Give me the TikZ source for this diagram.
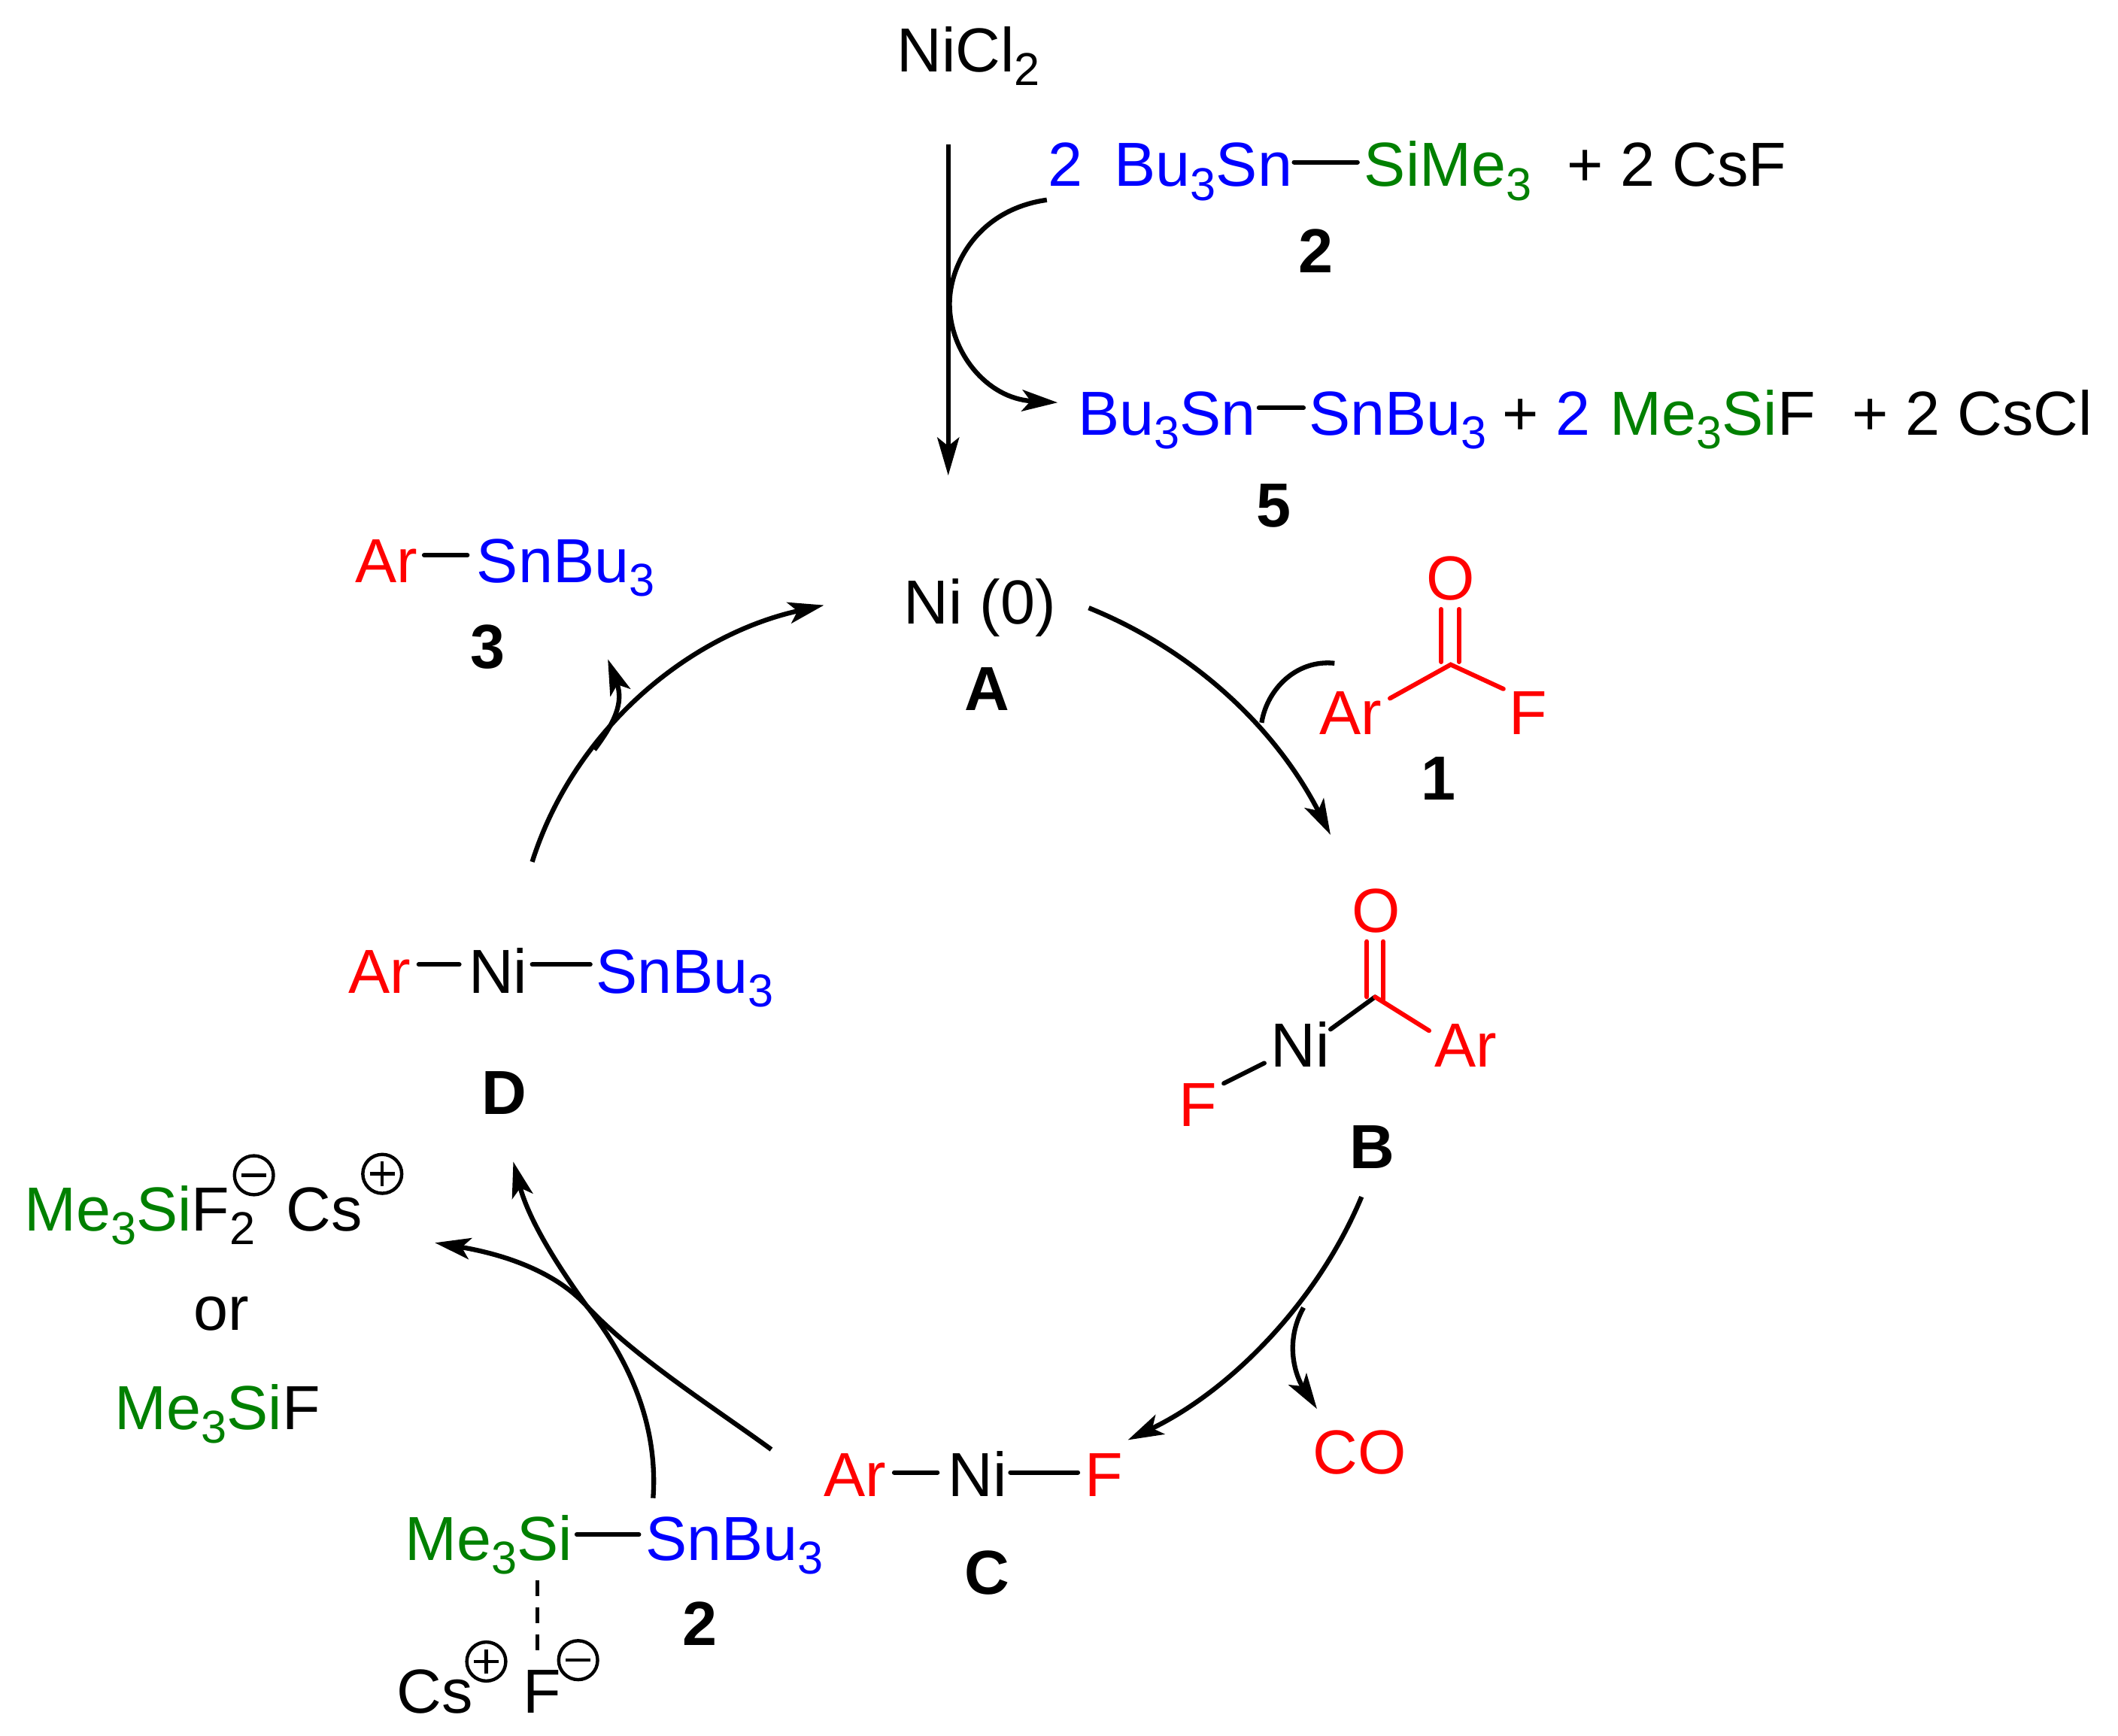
\documentclass[tikz,border=0pt]{standalone}
\usepackage{fontspec}
\setmainfont{Liberation Sans}
\usetikzlibrary{arrows.meta}
\definecolor{sgreen}{RGB}{0,128,0}
\newcommand{\sbs}[1]{\raisebox{-2.9pt}{\fontsize{9.7}{10}\selectfont #1}}
\newcommand{\gr}[1]{\textcolor{sgreen}{#1}}
\newcommand{\bl}[1]{\textcolor{blue}{#1}}
\newcommand{\rd}[1]{\textcolor{red}{#1}}
\tikzset{
  txt/.style={inner sep=0pt,outer sep=0pt,anchor=base west,font=\fontsize{13.1}{15}\selectfont},
  lab/.style={inner sep=0pt,outer sep=0pt,anchor=base,font=\fontsize{13.1}{15}\selectfont\bfseries},
  bond/.style={line width=0.95pt,line cap=round},
  rbond/.style={bond,red},
  arc/.style={line width=1pt,-{Stealth[length=7.5pt,width=4.5pt,inset=1.8pt]}},
  plainarc/.style={line width=1pt},
  charge/.style={circle,draw,line width=0.7pt,minimum size=8.2pt,inner sep=0pt,outer sep=0pt},
}
\newcommand{\pluscharge}[2]{\node[charge] (#1) at (#2) {}; \draw[line width=0.7pt] ([xshift=-2.6pt]#1.center) -- ([xshift=2.6pt]#1.center) ([yshift=-2.6pt]#1.center) -- ([yshift=2.6pt]#1.center);}
\newcommand{\minuscharge}[2]{\node[charge] (#1) at (#2) {}; \draw[line width=0.7pt] ([xshift=-2.6pt]#1.center) -- ([xshift=2.6pt]#1.center);}
\begin{document}
\begin{tikzpicture}[x=0.01cm,y=-0.01cm]
\useasboundingbox (0,0) rectangle (1568,1284.6);
% top
\node[txt] (nicl) at (664,53) {NiCl\sbs{2}};
\node[txt] (two) at (776,138) {\bl{2}};
\node[txt] (busn) at (825,138) {\bl{Bu\sbs{3}Sn}};
\node[txt] (sime) at (1010,138) {\gr{SiMe\sbs{3}}};
\node[txt] (csf) at (1160,138) {+ 2 CsF};
\node[lab] (l2a) at (974,202) {2};
\node[txt] (busnb) at (798,322) {\bl{Bu\sbs{3}Sn}};
\node[txt] (snbu) at (969,322) {\bl{SnBu\sbs{3}}};
\node[txt] (plus) at (1112,322) {+};
\node[txt] (twob) at (1152,322) {\bl{2}};
\node[txt] (mesif) at (1192,322) {\gr{Me\sbs{3}Si}F};
\node[txt] (cscl) at (1371,322) {+ 2 CsCl};
\node[lab] (l5) at (943,390) {5};
\draw[bond] (958,120) -- (1005,120);
\draw[bond] (932,302) -- (965,302);
\coordinate (v1) at (702,107); \coordinate (v2) at (702,352);
\draw[line width=1pt,-{Stealth[length=8pt,width=4.6pt,inset=1.8pt]}] (v1) -- (v2);
\coordinate (c1) at (775,148); \coordinate (c2) at (703,225); \coordinate (c3) at (783,298);
\draw[arc] (c1) .. controls (725,155) and (703,195) .. (c2) .. controls (703,260) and (730,295) .. (c3);
% product 3
\node[txt] (ar3) at (263,431) {\rd{Ar}};
\node[txt] (sn3) at (353,431) {\bl{SnBu\sbs{3}}};
\node[lab] (l3) at (361,495) {3};
\draw[bond] (314,411) -- (346,411);
% A
\node[txt] (ni0) at (669,462) {Ni (0)};
\node[lab] (lA) at (731,526) {A};
% 1
\node[txt] (o1) at (1056,444) {\rd{O}};
\node[txt] (ar1) at (977,544) {\rd{Ar}};
\node[txt] (f1) at (1117,544) {\rd{F}};
\node[lab] (l1) at (1065,592) {1};
\coordinate (c1c) at (1074,492);
\draw[rbond] (1067,451) -- (1067,490) (1080,451) -- (1080,490);
\draw[rbond] (1029,517) -- (c1c) -- (1113,510);
% B
\node[txt] (ob) at (1001,690) {\rd{O}};
\node[txt] (nib) at (941,790) {Ni};
\node[txt] (arb) at (1062,790) {\rd{Ar}};
\node[txt] (fb) at (873,834) {\rd{F}};
\node[lab] (lB) at (1016,865) {B};
\coordinate (cbc) at (1018,738);
\draw[bond] (985,762) -- (cbc);
\draw[bond] (906,802) -- (936,787);
\draw[rbond] (1012,697) -- (1012,738) (1024,697) -- (1024,740);
\draw[rbond] (cbc) -- (1058,763);
% C
\node[txt] (arc) at (610,1108) {\rd{Ar}};
\node[txt] (nic) at (702,1108) {Ni};
\node[txt] (fc) at (803,1108) {\rd{F}};
\node[lab] (lC) at (731,1180) {C};
\draw[bond] (662,1090) -- (694,1090);
\draw[bond] (748,1090) -- (798,1090);
\node[txt] (co) at (972,1091) {\rd{CO}};
% D
\node[txt] (ard) at (258,735) {\rd{Ar}};
\node[txt] (nid) at (347,735) {Ni};
\node[txt] (snd) at (441,735) {\bl{SnBu\sbs{3}}};
\node[lab] (lD) at (373,825) {D};
\draw[bond] (310,714) -- (340,714);
\draw[bond] (394,714) -- (437,714);
% by-products
\node[txt] (f2) at (18,911) {\gr{Me\sbs{3}Si}F\sbs{2}};
\node[txt] (cs) at (212,911) {Cs};
\minuscharge{m1}{188,870}
\pluscharge{p1}{283,869}
\node[txt,anchor=base] (or) at (164,985) {or};
\node[txt] (mesifb) at (85,1058) {\gr{Me\sbs{3}Si}F};
% reagent 2
\node[txt] (mes) at (300,1155) {\gr{Me\sbs{3}Si}};
\node[txt] (sns) at (478,1155) {\bl{SnBu\sbs{3}}};
\node[lab] (l2b) at (518,1218) {2};
\draw[bond] (427,1136) -- (473,1136);
\draw[line width=0.8pt,dash pattern=on 3.3pt off 2.4pt] (398,1170) -- (398,1222);
\node[txt] (csb) at (294,1268) {Cs};
\node[txt] (fcs) at (387,1268) {F};
\pluscharge{p2}{360,1230}
\minuscharge{m2}{428,1229}
% cycle arrows
\coordinate (a1) at (806,450); \coordinate (b1) at (985,618);
\draw[arc] (a1) .. controls (885,482) and (945,540) .. (b1);
\coordinate (b2) at (1008,886); \coordinate (c4) at (835,1066);
\draw[arc] (b2) .. controls (975,965) and (910,1030) .. (c4);
\coordinate (d1) at (394,638); \coordinate (a2) at (610,448);
\draw[arc] (d1) .. controls (425,540) and (510,470) .. (a2);
\coordinate (s1) at (440,555); \coordinate (s2) at (450,488);
\draw[arc] (s1) .. controls (455,535) and (462,520) .. (s2);
\coordinate (r1) at (988,491); \coordinate (r2) at (934,535);
\draw[plainarc] (r1) .. controls (960,488) and (938,510) .. (r2);
\coordinate (o1s) at (965,968); \coordinate (o1e) at (975,1043);
\draw[arc] (o1s) .. controls (950,995) and (960,1020) .. (o1e);
\coordinate (c5) at (571,1073); \coordinate (cm) at (434.5,967); \coordinate (pr) at (322,920);
\draw[arc] (c5) .. controls (530,1043) and (470,1005) .. (cm) .. controls (410,940) and (370,928) .. (pr);
\coordinate (sn1) at (483.5,1109); \coordinate (d2) at (380,860);
\draw[arc] (sn1) .. controls (487,1060) and (470,1012) .. (cm) .. controls (415,940) and (392,905) .. (d2);
\end{tikzpicture}
\end{document}
